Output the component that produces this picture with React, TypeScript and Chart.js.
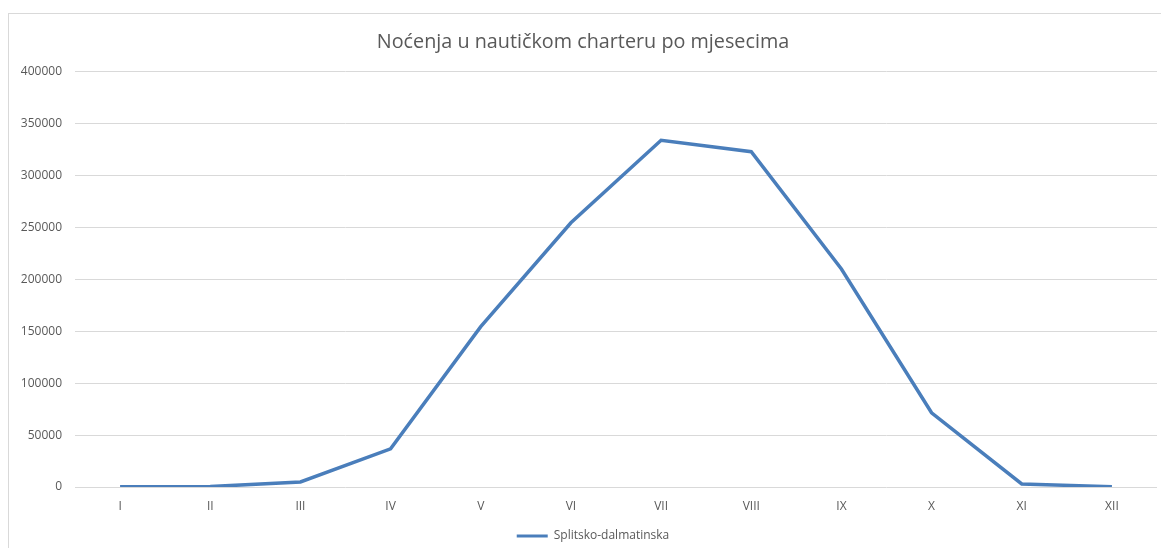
import React, { useEffect, useRef } from "react";
import { Chart, registerables } from "chart.js";

Chart.register(...registerables);

const chartTitle = "Noćenja u nautičkom charteru po mjesecima";
const months = ["I", "II", "III", "IV", "V", "VI", "VII", "VIII", "IX", "X", "XI", "XII"];
const seriesName = "Splitsko-dalmatinska";
const nights = [200, 400, 4900, 36800, 154500, 254500, 334000, 323000, 210000, 71500, 2900, 300];
const yMin = 0;
const yMax = 400000;
const yStep = 50000;

const lineColor = "#4A7EBB";
const textColor = "#595959";
const gridColor = "#D9D9D9";
const fontFamily = "'Open Sans', Lato, sans-serif";

const legendShift = {
  id: "legendShift",
  beforeDraw(chart: any) {
    const lg = chart.legend;
    if (lg && !lg._shifted) {
      lg.left += 10;
      lg.right += 10;
      lg._shifted = true;
    }
  },
};

export default function App() {
  const canvasRef = useRef<HTMLCanvasElement | null>(null);

  useEffect(() => {
    if (!canvasRef.current) return;
    const chart = new Chart(canvasRef.current, {
      type: "line",
      data: {
        labels: months,
        datasets: [
          {
            label: seriesName,
            data: nights,
            borderColor: lineColor,
            backgroundColor: lineColor,
            borderWidth: 3.5,
            pointRadius: 0,
            tension: 0,
            fill: false,
          },
        ],
      },
      plugins: [legendShift],
      options: {
        animation: false,
        responsive: true,
        maintainAspectRatio: false,
        layout: { padding: { left: 0, right: 4, top: 0, bottom: 0 } },
        plugins: {
          title: {
            display: true,
            text: chartTitle,
            color: textColor,
            font: { family: fontFamily, size: 19.8, weight: "normal" },
            padding: { top: 16, bottom: 18 },
          },
          legend: {
            display: true,
            position: "bottom",
            labels: {
              color: textColor,
              font: { family: fontFamily, size: 12 },
              boxWidth: 31,
              boxHeight: 3,
              padding: 10,
              generateLabels: (c: any) =>
                c.data.datasets.map((ds: any, i: number) => ({
                  text: ds.label,
                  fillStyle: lineColor,
                  strokeStyle: lineColor,
                  lineWidth: 0,
                  hidden: false,
                  datasetIndex: i,
                  fontColor: textColor,
                })),
            },
          },
          tooltip: { enabled: false },
        },
        scales: {
          x: {
            offset: true,
            grid: { display: false, drawTicks: false },
            border: { display: false },
            ticks: {
              color: textColor,
              font: { family: fontFamily, size: 12 },
              padding: 12,
              maxRotation: 0,
              autoSkip: false,
            },
            afterFit: (scale: any) => {
              scale.height = 33;
            },
          },
          y: {
            min: yMin,
            max: yMax,
            grid: { color: gridColor, lineWidth: 1, drawTicks: false },
            border: { display: false },
            ticks: {
              stepSize: yStep,
              color: textColor,
              font: { family: fontFamily, size: 12 },
              padding: 13,
              callback: (v: any) => String(v),
            },
            afterFit: (scale: any) => {
              scale.width = 66;
            },
          },
        },
      },
    });
    return () => chart.destroy();
  }, []);

  return (
    <div
      style={{
        position: "fixed",
        left: 0,
        top: 0,
        width: 1161,
        height: 548,
        overflow: "hidden",
        background: "#fff",
      }}
    >
      <div
        style={{
          position: "absolute",
          left: 8,
          top: 13,
          width: 1170,
          height: 560,
          border: "1px solid #D9D9D9",
          boxSizing: "border-box",
        }}
      >
        <div style={{ position: "absolute", left: 0, top: 0, width: 1152, height: 538 }}>
          <canvas ref={canvasRef} />
        </div>
      </div>
    </div>
  );
}
